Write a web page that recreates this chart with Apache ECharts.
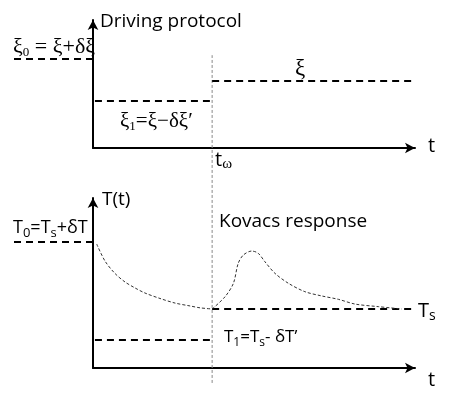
<!DOCTYPE html>
<html>
<head>
<meta charset="utf-8">
<script src="https://cdn.jsdelivr.net/npm/echarts@6/dist/echarts.min.js"></script>
<style>
  html, body { margin: 0; background: #fff; }
  #chart { width: 450px; height: 405px; }
</style>
</head>
<body>
<div id="chart"></div>
<script>
// x: time 0..100, y: 0..10 in both panels
const tOmega = 37;
const tEnd = 99.4;
const tLeft = -24.5;

// driving protocol levels (top)
const xi0 = 6.95;
const xi1 = 3.67;
const xi = 5.23;

// temperature levels (bottom)
const T0 = 7.41;
const Ts = 3.47;
const T1 = 1.65;

// relaxation before t_omega
const relaxX = [1.15, 3.73, 6.83, 9.94, 13.04, 16.15, 20.81, 25.47, 30.12, 33.23, 37];
const relaxY = [7.29, 6.29, 5.56, 5.06, 4.71, 4.41, 4.09, 3.82, 3.65, 3.54, 3.47];

// Kovacs hump after t_omega
const kovacsX = [37, 41.0, 43.6, 45.1, 46.7, 49.3, 51.3, 53.4, 56.5, 60.7, 65.8, 71.0, 76.2, 81.4, 88.6, 95.9];
const kovacsY = [3.47, 4.19, 4.98, 6.16, 6.65, 6.88, 6.75, 6.25, 5.57, 4.98, 4.49, 4.24, 4.04, 3.76, 3.61, 3.47];

// vertical marker span (bottom grid units)
const markerY = [-0.88, 18.4];

const chart = echarts.init(document.getElementById("chart"));

const sans = '"Open Sans"';
const serif = '"Liberation Serif"';

function axis(grid, min, max) {
  return {
    type: "value",
    min: min,
    max: max,
    gridIndex: grid,
    axisLine: {
      show: true,
      onZero: false,
      symbol: ["none", "arrow"],
      symbolSize: [8, 10],
      lineStyle: { color: "#000", width: 2 },
    },
    axisTick: { show: false },
    axisLabel: { show: false },
    splitLine: { show: false },
  };
}

// 左侧的隐藏坐标轴，只用来放起始水平虚线
function hiddenAxis(grid, min, max) {
  return { type: "value", show: false, gridIndex: grid, min: min, max: max };
}

function zip(xs, ys) {
  return xs.map((x, i) => [x, ys[i]]);
}

// 粗虚线
function dashed(grid, data) {
  return {
    type: "line",
    xAxisIndex: grid,
    yAxisIndex: grid,
    data: data,
    showSymbol: false,
    clip: false,
    silent: true,
    lineStyle: { color: "#000", width: 2, type: [7, 5] },
  };
}

// 细点线曲线
function curve(data) {
  return {
    type: "line",
    xAxisIndex: 1,
    yAxisIndex: 1,
    data: data,
    smooth: 0.3,
    showSymbol: false,
    clip: false,
    silent: true,
    lineStyle: { color: "#333", width: 1, type: [3, 2] },
  };
}

function label(x, y, text, font, size, rich) {
  return {
    type: "text",
    x: x,
    y: y,
    silent: true,
    style: {
      text: text,
      fontFamily: font,
      fontSize: size,
      fill: "#000",
      verticalAlign: "middle",
      rich: rich,
    },
  };
}

const sub = (font, size) => ({
  fontFamily: font,
  fontSize: size,
  lineHeight: 14,
  verticalAlign: "bottom",
});
const main = (font, size) => ({
  fontFamily: font,
  fontSize: size,
  lineHeight: 24,
});

const option = {
  animation: false,
  backgroundColor: "#fff",
  grid: [
    { left: 93, top: 20, width: 322, height: 128 },
    { left: 93, top: 198, width: 322, height: 170 },
    { left: 14, top: 20, width: 79, height: 128 },
    { left: 14, top: 198, width: 79, height: 170 },
  ],
  xAxis: [axis(0, 0, 100), axis(1, 0, 100), hiddenAxis(2, tLeft, 0), hiddenAxis(3, tLeft, 0)],
  yAxis: [axis(0, 0, 10), axis(1, 0, 10), hiddenAxis(2, 0, 10), hiddenAxis(3, 0, 10)],
  series: [
    // vertical t_omega marker
    {
      type: "line",
      xAxisIndex: 1,
      yAxisIndex: 1,
      data: [[tOmega, markerY[0]], [tOmega, markerY[1]]],
      showSymbol: false,
      clip: false,
      silent: true,
      lineStyle: { color: "#888", width: 1, type: [3, 2] },
    },
    dashed(2, [[tLeft, xi0], [0, xi0]]),
    dashed(0, [[0.6, xi1], [tOmega - 0.7, xi1]]),
    dashed(0, [[tOmega, xi], [tEnd, xi]]),
    dashed(3, [[tLeft, T0], [0, T0]]),
    dashed(1, [[0.6, T1], [tOmega - 0.7, T1]]),
    dashed(1, [[tOmega, Ts], [tEnd, Ts]]),
    curve(zip(relaxX, relaxY)),
    curve(zip(kovacsX, kovacsY)),
  ],
  graphic: [
    label(100, 22, "Driving protocol", sans, 19),
    label(13, 47, "{m|ξ}{s|0}{m| = ξ+δξ}", serif, 22, { m: main(serif, 22), s: sub(serif, 13) }),
    label(120, 121, "{m|ξ}{s|1}{m|=ξ−δξ′}", serif, 21, { m: main(serif, 21), s: sub(serif, 13) }),
    label(295, 69, "ξ", serif, 23),
    label(428, 146, "t", sans, 20),
    label(215, 160, "{m|t}{s|ω}", sans, 20, { m: main(sans, 20), s: sub(serif, 15) }),
    label(102, 200, "T(t)", sans, 19),
    label(13, 228, "{m|T}{s|0}{m|=T}{s|s}{m|+δT}", sans, 18, { m: main(sans, 18), s: sub(sans, 13) }),
    label(219, 222, "Kovacs response", sans, 19),
    label(418, 311, "{m|T}{s|s}", sans, 20, { m: main(sans, 20), s: sub(sans, 14) }),
    label(224, 337, "{m|T}{s|1}{m|=T}{s|s}{m|- δT’}", sans, 17, { m: main(sans, 17), s: sub(sans, 12) }),
    label(428, 380, "t", sans, 20),
  ],
};

chart.setOption(option);
</script>
</body>
</html>
